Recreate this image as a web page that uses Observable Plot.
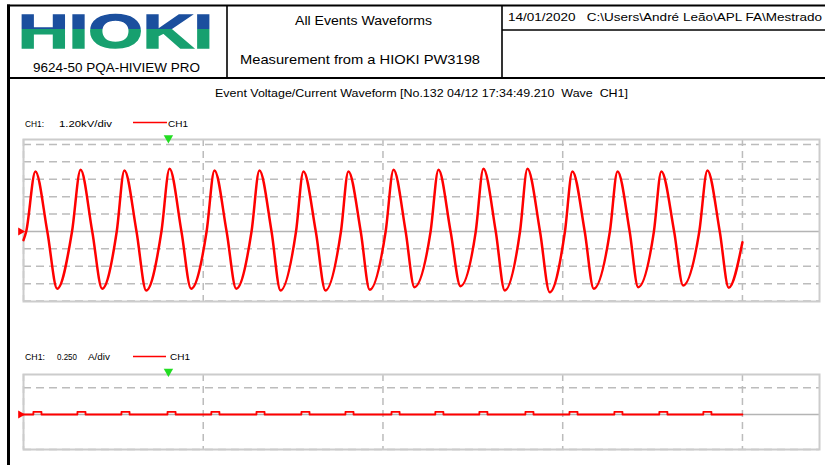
<!DOCTYPE html>
<html><head><meta charset="utf-8">
<script src="https://cdn.jsdelivr.net/npm/d3@7"></script>
<script src="https://cdn.jsdelivr.net/npm/@observablehq/plot@0.6"></script>
<style>
body{margin:0;background:#fff;font-family:"Liberation Sans",Arial,sans-serif;}
#page{position:relative;width:825px;height:465px;overflow:hidden;background:#fff;}
#hdr{position:absolute;left:0;top:0;}
#hdr text{font-family:"Liberation Sans",Arial,sans-serif;fill:#000;white-space:pre;}
.plotbox{position:absolute;left:0;}
</style></head><body><div id="page">
<svg id="hdr" width="825" height="465">
  <defs>
    <linearGradient id="hg" gradientUnits="userSpaceOnUse" x1="0" y1="13" x2="0" y2="48">
      <stop offset="0" stop-color="#1b4f9e"/><stop offset="0.47" stop-color="#1b4f9e"/>
      <stop offset="0.47" stop-color="#17a06f"/><stop offset="1" stop-color="#17a06f"/>
    </linearGradient>
  </defs>
  <line x1="7" y1="5.5" x2="825" y2="5.5" stroke="#000" stroke-width="2"/>
  <line x1="8.5" y1="4.5" x2="8.5" y2="465" stroke="#000" stroke-width="3"/>
  <line x1="7" y1="78" x2="825" y2="78" stroke="#000" stroke-width="2"/>
  <line x1="227" y1="5" x2="227" y2="78" stroke="#000" stroke-width="1.6"/>
  <line x1="502" y1="5" x2="502" y2="78" stroke="#000" stroke-width="1.6"/>
  <line x1="502" y1="30" x2="825" y2="30" stroke="#000" stroke-width="1.6"/>
  <text x="18" y="48" font-size="49" font-weight="bold" fill="url(#hg)" style="fill:url(#hg);stroke:url(#hg);stroke-width:1.5" textLength="195" lengthAdjust="spacingAndGlyphs">HIOKI</text>
  <text x="33" y="72" font-size="12" textLength="167" lengthAdjust="spacingAndGlyphs">9624-50 PQA-HIVIEW PRO</text>
  <text x="295" y="25" font-size="12.5" textLength="137" lengthAdjust="spacingAndGlyphs">All Events Waveforms</text>
  <text x="240" y="64" font-size="13.5" textLength="240" lengthAdjust="spacingAndGlyphs">Measurement from a HIOKI PW3198</text>
  <text x="508" y="21" font-size="11" textLength="314" lengthAdjust="spacingAndGlyphs">14/01/2020   C:\Users\André Leão\APL FA\Mestrado</text>
  <text x="215" y="97" font-size="10.5" textLength="413" lengthAdjust="spacingAndGlyphs">Event Voltage/Current Waveform [No.132 04/12 17:34:49.210  Wave  CH1]</text>
  <text x="25" y="127" font-size="9.5" textLength="19" lengthAdjust="spacingAndGlyphs">CH1:</text>
  <text x="59" y="127" font-size="9.5" textLength="53" lengthAdjust="spacingAndGlyphs">1.20kV/div</text>
  <line x1="133" y1="122.5" x2="167" y2="122.5" stroke="#ff0000" stroke-width="1.6"/>
  <text x="168" y="127" font-size="9.5" textLength="20" lengthAdjust="spacingAndGlyphs">CH1</text>
  <text x="25" y="360" font-size="9.5" textLength="20" lengthAdjust="spacingAndGlyphs">CH1:</text>
  <text x="57" y="360" font-size="9.5" textLength="20" lengthAdjust="spacingAndGlyphs">0.250</text>
  <text x="88" y="360" font-size="9.5" textLength="22" lengthAdjust="spacingAndGlyphs">A/div</text>
  <line x1="133" y1="356.5" x2="166" y2="356.5" stroke="#ff0000" stroke-width="1.6"/>
  <text x="170" y="360" font-size="9.5" textLength="20" lengthAdjust="spacingAndGlyphs">CH1</text>
</svg>
<div id="p1" class="plotbox" style="top:128px"></div>
<div id="p2" class="plotbox" style="top:364px"></div>
</div>
<script>
// ---- Data (time in ms, voltage in kV, current in A) ----
const timeGrid = [0, 80, 160, 240, 320];
const voltGrid = [-4.8, -3.6, -2.4, -1.2, 1.2, 2.4, 3.6, 4.8, 6.0];
const currGrid = [0.25, -0.328];
const triggerT = 64.5;

const vStart = {t: 0, v: -0.6};
const vEnd = {t: 320, v: -0.74};
const riseT = [1.2,21.6,41.5,61.4,81.5,101.5,121.3,141.3,161.2,181.2,201.3,221.0,241.0,261.0,280.6,300.8];
const peakT = [5.3,25.4,44.9,65.0,85.0,105.0,124.6,144.6,164.7,184.7,204.7,224.3,244.3,264.4,283.9,304.4];
const peakV = [4.14,4.26,4.21,4.32,4.21,4.21,4.14,4.14,4.26,4.26,4.32,4.32,4.14,4.14,4.14,4.21];
const fallT = [10.6,30.6,50.3,70.3,90.4,110.4,130.1,150.1,170.1,190.1,210.2,229.9,249.8,269.8,289.6,309.9];
const troughT = [15.0,35.0,54.6,74.6,94.7,114.4,134.4,154.1,174.0,194.5,214.2,234.2,253.8,273.6,293.6,313.9];
const troughV = [-3.95,-3.95,-4.07,-3.95,-3.95,-4.07,-4.07,-4.02,-3.84,-3.77,-4.07,-4.19,-3.95,-3.84,-3.72,-3.88];

const bumpStart = [4.4,24.0,43.6,64.1,83.6,103.7,123.7,143.3,163.8,183.3,202.9,223.4,243.0,263.0,283.0,302.6];
const bumpEnd = [8.0,27.6,47.2,67.7,87.2,107.3,127.3,146.9,167.4,186.9,206.5,227.0,246.6,266.6,286.6,306.2];
const bumpA = [0.025,0.025,0.025,0.025,0.025,0.025,0.025,0.025,0.025,0.025,0.025,0.025,0.025,0.025,0.025,0.025];
const currEndT = 320;

// ---- Build tables ----
const voltPts = [vStart];
riseT.forEach((_, i) => {
  voltPts.push({t: riseT[i], v: 0}, {t: peakT[i], v: peakV[i]}, {t: fallT[i], v: 0}, {t: troughT[i], v: troughV[i]});
});
voltPts.push(vEnd);

const currPts = [{t: 0, a: 0}];
bumpStart.forEach((_, i) => {
  currPts.push({t: bumpStart[i], a: 0}, {t: bumpStart[i], a: bumpA[i]}, {t: bumpEnd[i], a: bumpA[i]}, {t: bumpEnd[i], a: 0});
});
currPts.push({t: currEndT, a: 0});

const gridStroke = "#bcbcbc";
const xDomain = [0, 354.3];

const p1 = Plot.plot({
  width: 825, height: 177,
  marginLeft: 23, marginRight: 6, marginTop: 11, marginBottom: 4,
  x: {domain: xDomain, axis: null},
  y: {domain: [-4.83, 6.34], axis: null},
  style: {background: "transparent", overflow: "visible"},
  marks: [
    Plot.ruleY(voltGrid, {stroke: gridStroke, strokeWidth: 1.5, strokeDasharray: "8,5"}),
    Plot.ruleX(timeGrid, {stroke: gridStroke, strokeWidth: 1.5, strokeDasharray: "7,5"}),
    Plot.ruleY([0], {stroke: "#b4b4b4", strokeWidth: 1.5}),
    Plot.frame({stroke: "#cccccc", strokeWidth: 2}),
    Plot.line(voltPts, {x: "t", y: "v", stroke: "#ff0000", strokeWidth: 2.5, curve: "monotone-x"}),
    Plot.dot([0], {x: 0, y: 0, symbol: "triangle", rotate: 90, r: 3, fill: "#ff0000", stroke: "none", dx: -3}),
    Plot.dot([triggerT], {x: d => d, y: 6.34, symbol: "triangle", rotate: 180, r: 3.5, fill: "#22dd22", stroke: "none", dy: -1.5})
  ]
});
document.getElementById("p1").appendChild(p1);

const p2 = Plot.plot({
  width: 825, height: 89,
  marginLeft: 23, marginRight: 6, marginTop: 10, marginBottom: 4,
  x: {domain: xDomain, axis: null},
  y: {domain: [-0.328, 0.3745], axis: null},
  style: {background: "transparent", overflow: "visible"},
  marks: [
    Plot.ruleY(currGrid, {stroke: gridStroke, strokeWidth: 1.5, strokeDasharray: "8,5"}),
    Plot.ruleX(timeGrid, {stroke: gridStroke, strokeWidth: 1.5, strokeDasharray: "7,5"}),
    Plot.ruleY([0], {stroke: "#b4b4b4", strokeWidth: 1.5}),
    Plot.frame({stroke: "#cccccc", strokeWidth: 2}),
    Plot.line(currPts, {x: "t", y: "a", stroke: "#ff0000", strokeWidth: 1.8}),
    Plot.dot([0], {x: 0, y: 0, symbol: "triangle", rotate: 90, r: 3, fill: "#ff0000", stroke: "none", dx: -3}),
    Plot.dot([triggerT], {x: d => d, y: 0.3745, symbol: "triangle", rotate: 180, r: 3.5, fill: "#22dd22", stroke: "none", dy: -3})
  ]
});
document.getElementById("p2").appendChild(p2);
</script>
</body></html>
